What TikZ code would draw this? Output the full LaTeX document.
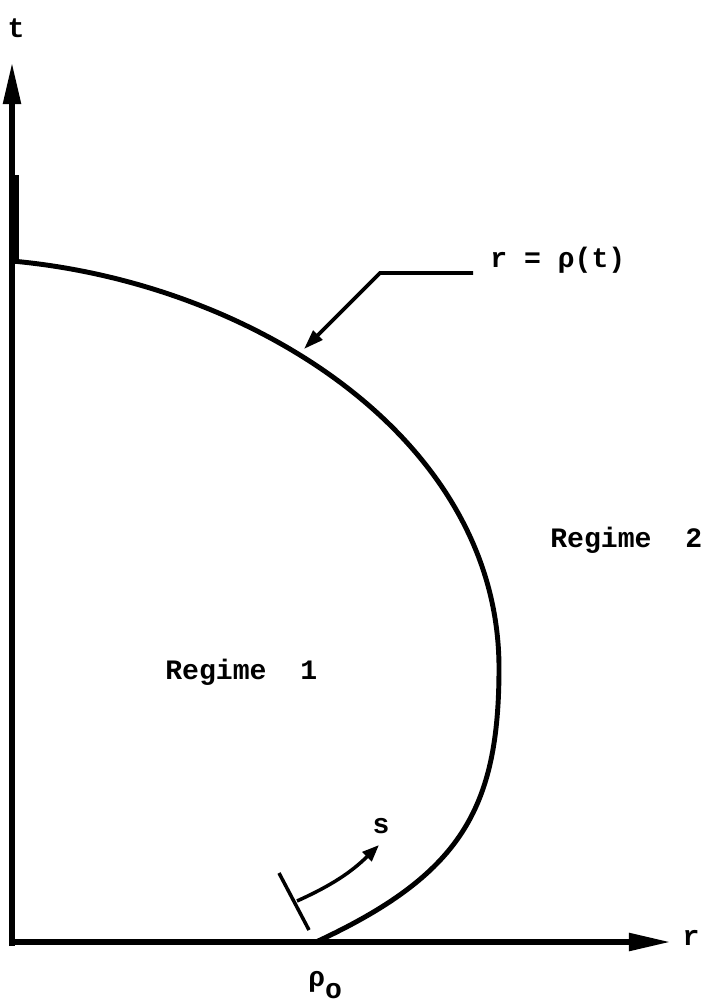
\documentclass[tikz,border=0pt]{standalone}
\usepackage{fontspec}
\usepackage{tikz}
\usetikzlibrary{arrows.meta}
\newfontfamily\typefont{Liberation Mono}

\begin{document}
\begin{tikzpicture}[
  x=0.025cm, y=-0.025cm,
  axis/.style={line width=4.2pt, -{Triangle[length=30pt, width=12pt]}},
  front/.style={line width=3.5pt},
  pointer/.style={line width=2.6pt, -{Triangle[length=14pt, width=9pt]}},
  label/.style={font=\typefont\fontsize{20}{24}\selectfont\bfseries, inner sep=0pt}
]
\useasboundingbox (0,0) rectangle (703,1005);

% axes
\coordinate (orig) at (12,942);
\coordinate (tend) at (12,62);
\coordinate (rend) at (671,942);
\draw[axis] (12,946) -- (tend);
\draw[axis] (9,942) -- (rend);
\node[label] (tlab) at (16,28) {t};
\node[label] (rlab) at (691,938) {r};

% thick piece of the t axis
\fill (9,262) rectangle (19,175);

% free boundary
\coordinate (rho0) at (316,942);
\coordinate (rmax) at (499,668);
\coordinate (ttop) at (12,261);
\draw[front] (rho0) .. controls (460,875) and (499,810) .. (rmax)
                    .. controls (499,440) and (255,283) .. (ttop);

% label of the boundary
\node[label, anchor=base west] (rhoeq) at (490,267) {r = ρ(t)};
\coordinate (kneeA) at (473,273);
\coordinate (kneeB) at (380,273);
\coordinate (hit) at (304,349);
\draw[pointer, line join=miter] (kneeA) -- (kneeB) -- (hit);

% regimes
\node[label, anchor=base west] (reg1) at (165,679) {Regime\ \ 1};
\node[label, anchor=base west] (reg2) at (550,547) {Regime\ \ 2};

% arc length s
\coordinate (barA) at (279,873);
\coordinate (barB) at (309,930);
\coordinate (sfoot) at (297,901);
\coordinate (shead) at (379,845);
\draw[line width=2.5pt] (barA) -- (barB);
\draw[line width=2.5pt, -{Triangle[length=12pt, width=9pt]}] (sfoot) to[bend right=10] (shead);
\node[label] (slab) at (381,826) {s};
\node[label, anchor=base west] (rholab) at (308,986) {ρ\raisebox{-9pt}{o}};
\end{tikzpicture}
\end{document}
